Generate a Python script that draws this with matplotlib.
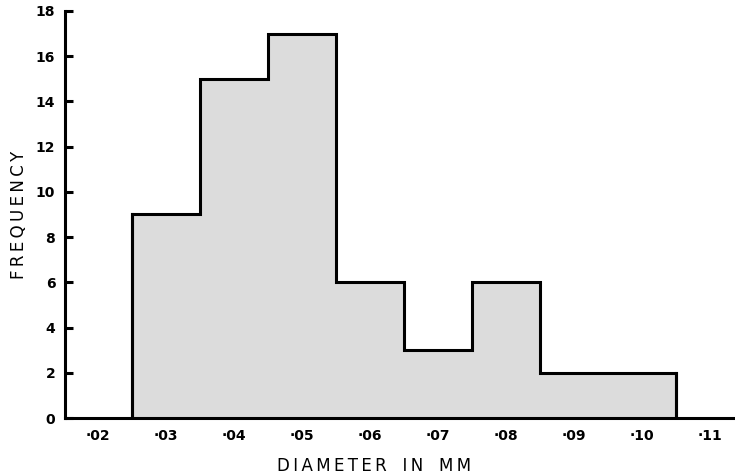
import numpy as np
import matplotlib.pyplot as plt

# particle diameter histogram (mm)
edges = [0.025, 0.035, 0.045, 0.055, 0.065, 0.075, 0.085, 0.095, 0.105]
counts = [9, 15, 17, 6, 3, 6, 2, 2]
xticks = [0.02, 0.03, 0.04, 0.05, 0.06, 0.07, 0.08, 0.09, 0.10, 0.11]
xticklabels = ['\u00b702', '\u00b703', '\u00b704', '\u00b705', '\u00b706',
               '\u00b707', '\u00b708', '\u00b709', '\u00b710', '\u00b711']
yticks = [0, 2, 4, 6, 8, 10, 12, 14, 16, 18]

def spaced(s):
    # widen letter spacing with thin spaces
    return '\u2009'.join(s)

fig = plt.figure(figsize=(7.35, 4.75), dpi=100)
ax = fig.add_axes([0.0884, 0.12, 0.9116, 0.857])

ax.stairs(counts, edges, fill=True, facecolor='#dcdcdc', edgecolor='none')
ax.stairs(counts, edges, fill=False, color='black', linewidth=2.2)
ax.plot([edges[0], edges[0]], [0, counts[0]], color='black', lw=2.2)
ax.plot([edges[-1], edges[-1]], [0, counts[-1]], color='black', lw=2.2)

ax.set_xlim(0.01515, 0.1137)
ax.set_ylim(0, 18)
ax.set_xticks(xticks)
ax.set_xticklabels(xticklabels, fontsize=10, fontweight='bold')
ax.set_yticks(yticks)
ax.set_yticklabels([str(v) for v in yticks], fontsize=10, fontweight='bold')

ax.spines['top'].set_visible(False)
ax.spines['right'].set_visible(False)
ax.spines['left'].set_linewidth(2.2)
ax.spines['bottom'].set_linewidth(2.2)
ax.tick_params(axis='y', direction='in', length=6, width=2.2, pad=7)
ax.tick_params(axis='x', length=0, pad=8)

ax.set_xlabel(spaced('DIAMETER') + '   ' + spaced('IN') + '   ' + spaced('MM'), fontsize=12)
ax.set_ylabel(spaced('FREQUENCY'), fontsize=12)
ax.xaxis.set_label_coords(0.461, -0.095)
ax.yaxis.set_label_coords(-0.055, 0.5)

fig.savefig('out.png', dpi=100)
